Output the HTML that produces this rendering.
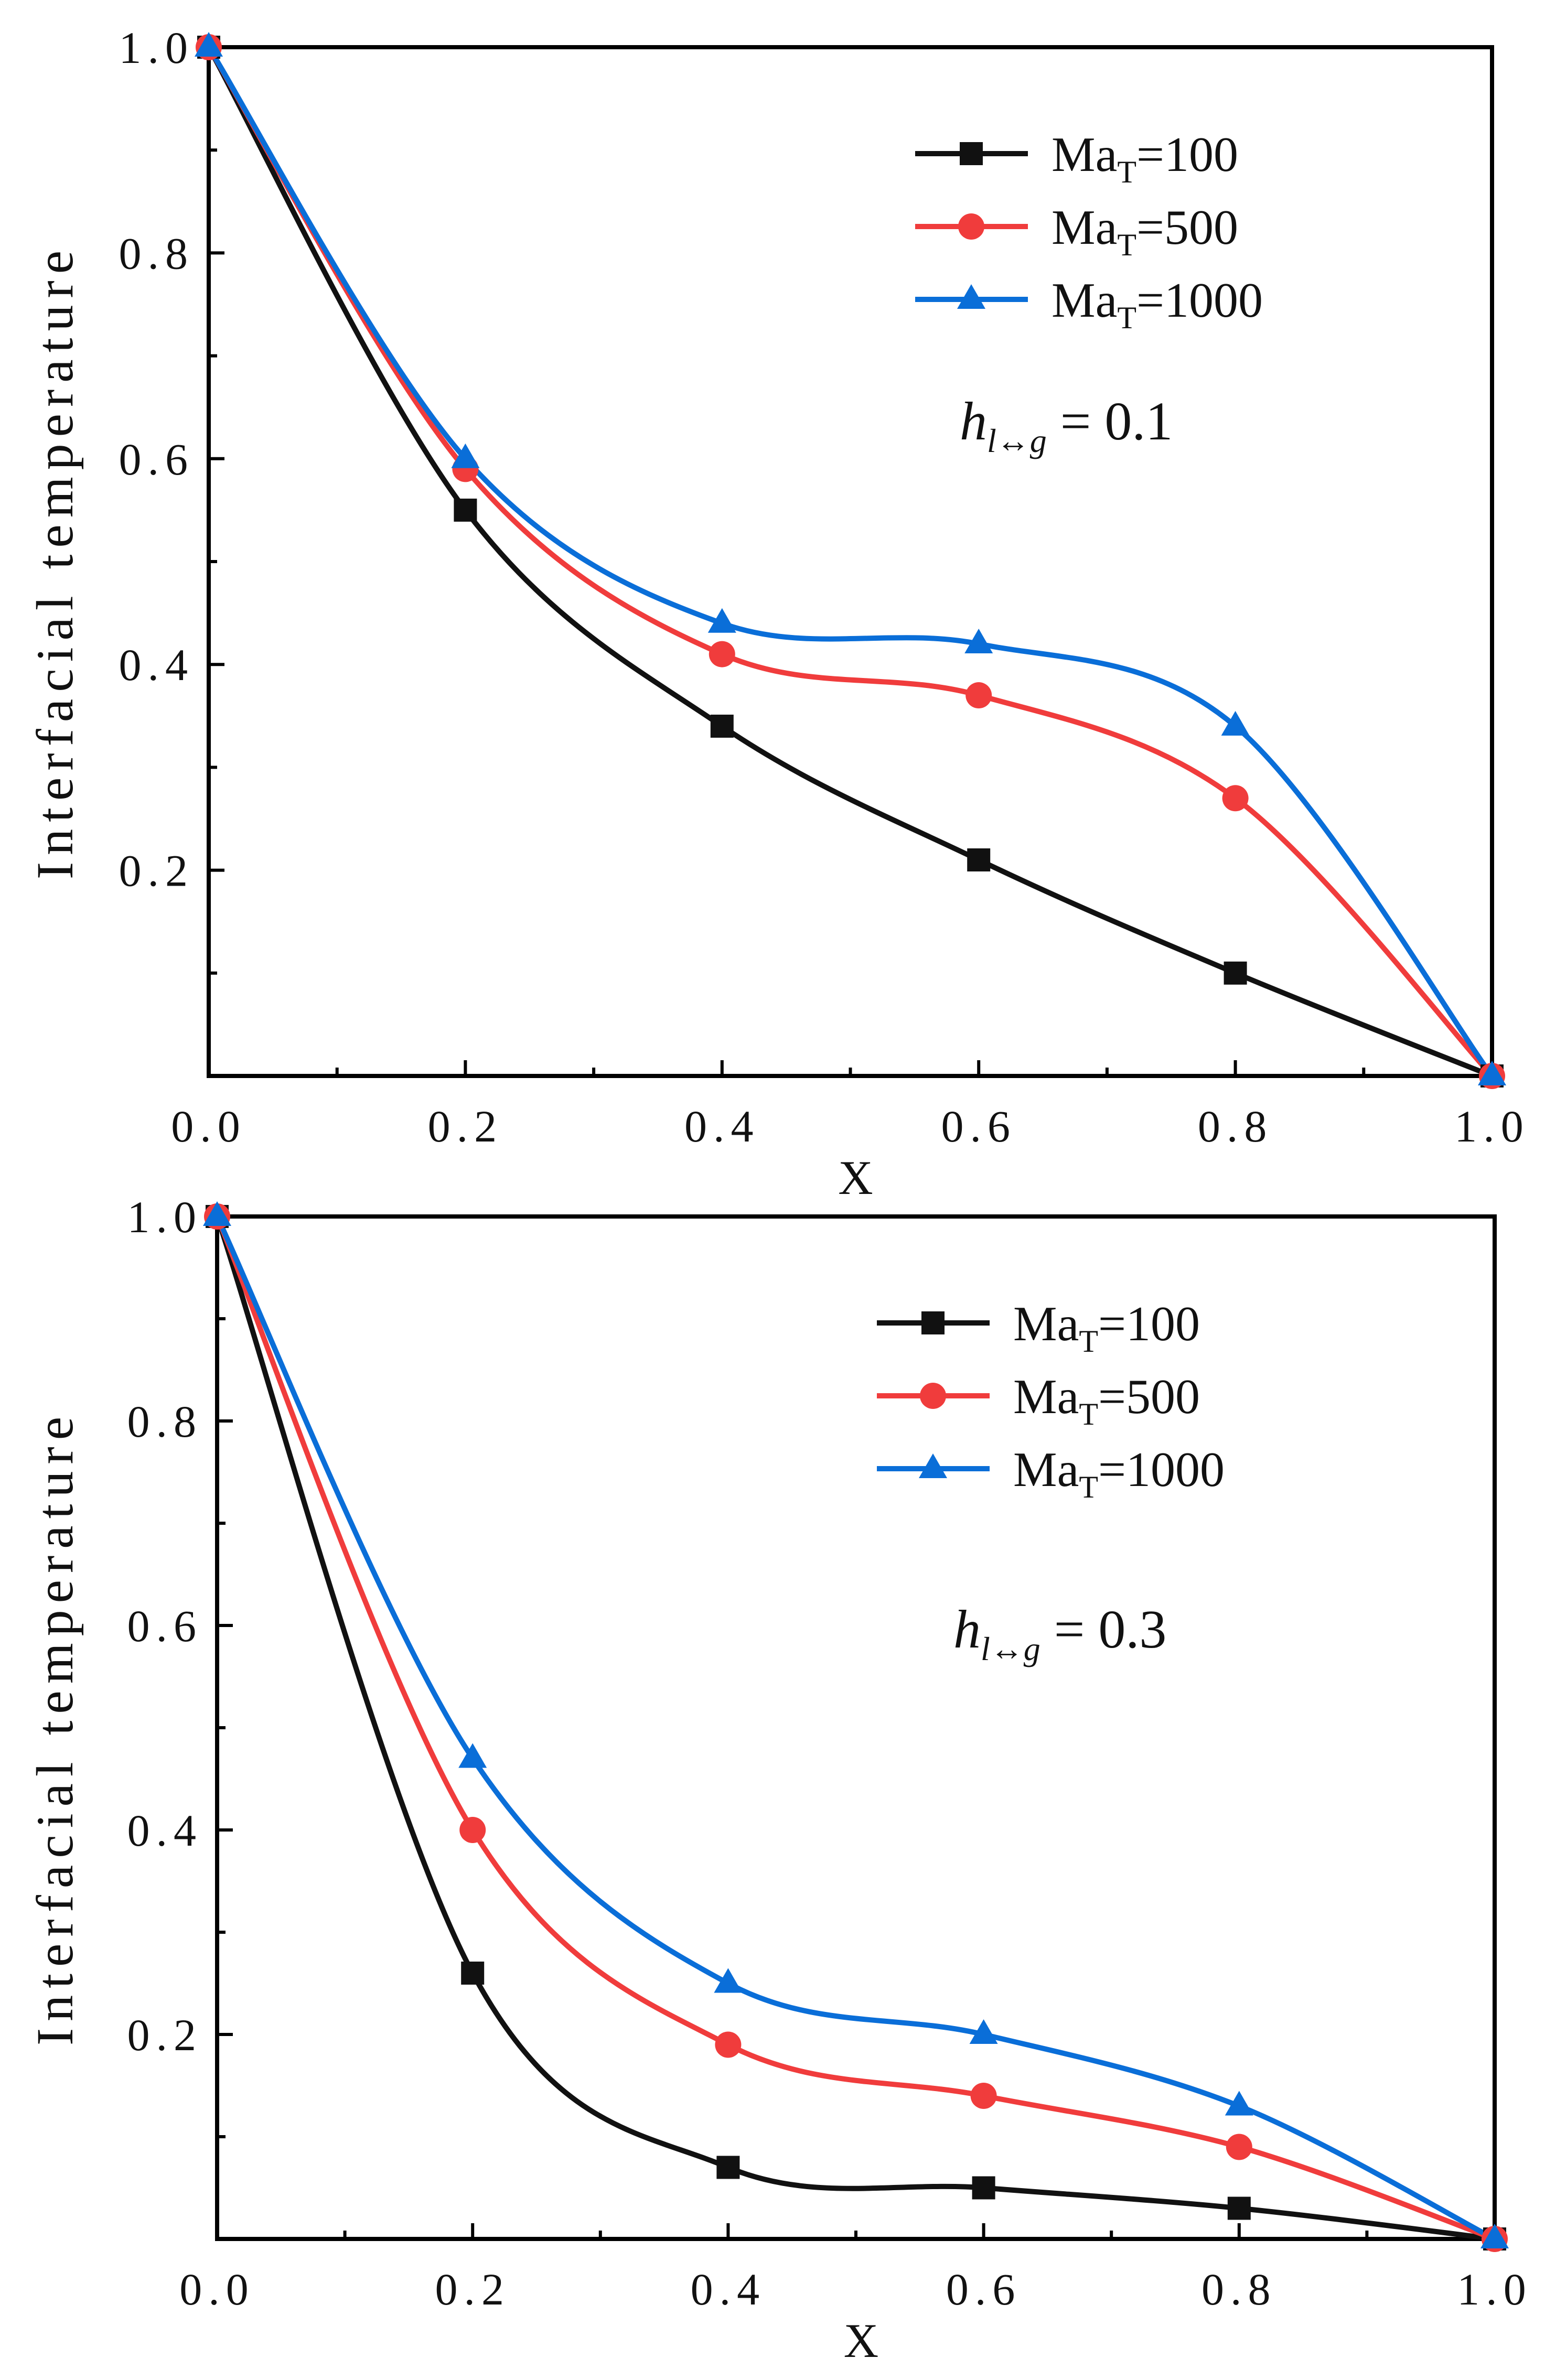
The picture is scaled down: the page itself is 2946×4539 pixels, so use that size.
<!DOCTYPE html>
<html><head><meta charset="utf-8">
<style>
html,body{margin:0;padding:0;background:#fff;}
svg{display:block;}
text{font-family:"Liberation Serif","DejaVu Serif",serif;fill:#111;}
</style></head>
<body>
<svg id="fig" xmlns="http://www.w3.org/2000/svg" width="2946" height="4539" viewBox="0 0 2946 4539"></svg>
<script>
const xValues = [0, 0.2, 0.4, 0.6, 0.8, 1.0];
const xTickLabels = ["0.0","0.2","0.4","0.6","0.8","1.0"];
const yTickLabels = ["0.2","0.4","0.6","0.8","1.0"];
const seriesNames = ["100","500","1000"];
const top100 = [1, 0.55, 0.34, 0.21, 0.10, 0];
const top500 = [1, 0.59, 0.41, 0.37, 0.27, 0];
const top1000 = [1, 0.60, 0.44, 0.42, 0.34, 0];
const bot100 = [1, 0.26, 0.07, 0.05, 0.03, 0];
const bot500 = [1, 0.40, 0.19, 0.14, 0.09, 0];
const bot1000 = [1, 0.47, 0.25, 0.20, 0.13, 0];
const hValues = ["0.1","0.3"];

const NS="http://www.w3.org/2000/svg";
const svg=document.getElementById('fig');
const colors=["#111111","#f03c3c","#0a6ed8"];
const markers=["square","circle","triangle"];

function mk(tag,attrs,parent){const e=document.createElementNS(NS,tag);for(const k in attrs)e.setAttribute(k,attrs[k]);(parent||svg).appendChild(e);return e;}

function marker(g,type,cx,cy,color){
  let e;
  if(type==="square"){e=mk('rect',{x:cx-22,y:cy-22,width:44,height:44,fill:color},g);}
  else if(type==="circle"){e=mk('circle',{cx:cx,cy:cy,r:25,fill:color},g);}
  else {e=mk('polygon',{points:`${cx},${cy-29} ${cx+27},${cy+18} ${cx-27},${cy+18}`,fill:color},g);}
  return e;
}

function smoothPath(pts){
  let d=`M${pts[0][0]},${pts[0][1]}`;
  for(let i=0;i<pts.length-1;i++){
    const p0=pts[Math.max(0,i-1)],p1=pts[i],p2=pts[i+1],p3=pts[Math.min(pts.length-1,i+2)];
    const t=1/3;
    const c1=[p1[0]+(p2[0]-p0[0])*t/2,p1[1]+(p2[1]-p0[1])*t/2];
    const c2=[p2[0]-(p3[0]-p1[0])*t/2,p2[1]-(p3[1]-p1[1])*t/2];
    d+=` C${c1[0]},${c1[1]} ${c2[0]},${c2[1]} ${p2[0]},${p2[1]}`;
  }
  return d;
}

function panel(name,L,R,T,B,series,legX,legY,hX,hY,hVal){
  const g=mk('g',{});
  
  
  const sx=v=>L+(R-L)*v, sy=v=>B-(B-T)*v;
  const fr=mk('rect',{x:L,y:T,width:R-L,height:B-T,fill:'none',stroke:'#000','stroke-width':8},g);
  
  
  for(let i=1;i<10;i++){
    const len=(i%2===0)?30:16;
    const tx=mk('line',{x1:sx(i/10),x2:sx(i/10),y1:B,y2:B-len,stroke:'#000','stroke-width':6},g);
    
    
    const ty=mk('line',{x1:L,x2:L+len,y1:sy(i/10),y2:sy(i/10),stroke:'#000','stroke-width':6},g);
    
    
  }
  xTickLabels.forEach((lab,i)=>{
    const t=mk('text',{x:sx(xValues[i]),y:B+125,'font-size':86,'text-anchor':'middle','letter-spacing':12},g);
    t.textContent=lab;
    
    
  });
  yTickLabels.forEach((lab)=>{
    const v=parseFloat(lab);
    const t=mk('text',{x:L-28,y:sy(v)+30,'font-size':86,'text-anchor':'end','letter-spacing':12},g);
    t.textContent=lab;
    
    
  });
  const xt=mk('text',{x:(L+R)/2+10,y:B+225,'font-size':92,'text-anchor':'middle'},g);
  xt.textContent='X';
  
  
  const cy=(T+B)/2;
  const yt=mk('text',{x:0,y:0,'font-size':100,'text-anchor':'middle','letter-spacing':13,transform:`translate(138,${cy}) rotate(-90)`},g);
  yt.textContent='Interfacial temperature';
  
  
  series.forEach((vals,si)=>{
    const pts=vals.map((v,i)=>[sx(xValues[i]),sy(v)]);
    const p=mk('path',{d:smoothPath(pts),fill:'none',stroke:colors[si],'stroke-width':10},g);
    
    
  });
  series.forEach((vals,si)=>{
    vals.forEach((v,i)=>{
      const m=marker(g,markers[si],sx(xValues[i]),sy(v),colors[si]);
      
      
    });
  });
  seriesNames.forEach((s,si)=>{
    const y=legY+si*139;
    const ln=mk('line',{x1:legX,x2:legX+215,y1:y,y2:y,stroke:colors[si],'stroke-width':10},g);
    
    
    const m=marker(g,markers[si],legX+107,y,colors[si]);
    
    
    const t=mk('text',{x:legX+260,y:y+33,'font-size':94},g);
    
    
    t.innerHTML=`Ma<tspan font-size="60" dy="22">T</tspan><tspan dy="-22">=${s}</tspan>`;
  });
  const h=mk('text',{x:hX,y:hY,'font-size':104},g);
  
  
  h.innerHTML=`<tspan font-style="italic">h</tspan><tspan font-size="64" dy="24" font-style="italic">l↔g</tspan><tspan dy="-24"> = ${hVal}</tspan>`;
}

panel('top-panel',398,2845,90,2052,[top100,top500,top1000],1745,293,1830,838,hValues[0]);
panel('bottom-panel',414,2850,2320,4270,[bot100,bot500,bot1000],1672,2523,1818,3142,hValues[1]);
</script>
</body></html>
